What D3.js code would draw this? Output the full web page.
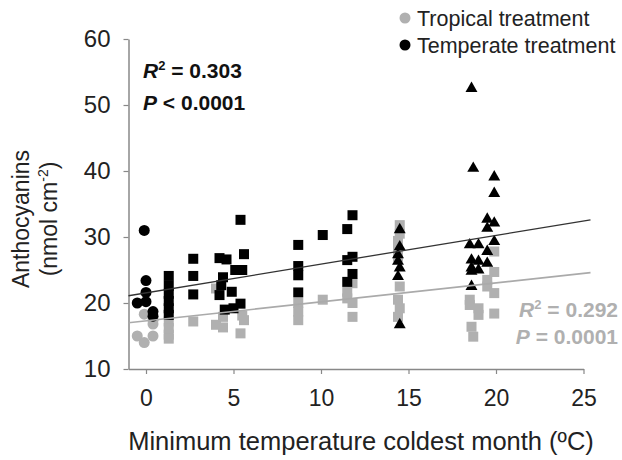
<!DOCTYPE html>
<html>
<head>
<meta charset="utf-8">
<script src="https://cdn.jsdelivr.net/npm/d3@7"></script>
<style>
  body { margin: 0; background: #fff; }
  svg { font-family: "Liberation Sans", Arial, sans-serif; }
</style>
</head>
<body>
<div id="chart"></div>
<script>
// x = minimum temperature coldest month, y = anthocyanins
var xTicks = [0, 5, 10, 15, 20, 25];
var yTicks = [10, 20, 30, 40, 50, 60];

// temperate treatment (black)
var temperateCircles = [[-0.1, 31.0], [0.0, 23.4], [0.0, 21.6], [-0.5, 20.0], [0.0, 20.2], [0.4, 18.7], [0.4, 18.0]];
var temperateSquares = [
  [1.3, 24.1], [1.3, 22.6], [1.3, 21.4], [1.3, 20.3], [1.3, 19.2], [1.3, 18.2],
  [2.7, 26.7], [2.7, 24.1], [2.7, 21.3],
  [4.2, 26.8], [4.6, 26.6], [4.4, 23.9], [4.3, 22.7], [4.2, 21.2], [4.9, 21.7], [4.5, 19.0], [5.0, 19.2],
  [5.1, 25.0], [5.5, 25.0], [5.6, 27.4], [5.4, 32.6], [5.4, 19.9],
  [8.7, 28.8], [8.7, 25.6], [8.7, 24.2], [8.7, 21.6],
  [10.1, 30.3],
  [11.8, 33.3], [11.5, 31.2], [11.5, 26.5], [11.8, 27.0], [11.8, 24.4], [11.5, 23.2]
];
var temperateTriangles = [
  [14.5, 31.1], [14.5, 28.5], [14.4, 27.3], [14.4, 26.3], [14.5, 25.3], [14.4, 24.0], [14.5, 16.7],
  [18.6, 52.5], [18.7, 40.4], [18.5, 28.8], [19.0, 28.8], [18.6, 26.5], [19.0, 26.3], [18.6, 25.3],
  [18.6, 24.8], [18.6, 22.5], [19.0, 25.0], [19.5, 27.8], [19.5, 26.0],
  [19.9, 39.1], [19.9, 36.6], [19.5, 32.7], [19.9, 32.1], [19.5, 31.3], [19.9, 29.3]
];

// tropical treatment (grey)
var tropicalCircles = [[-0.5, 15.0], [-0.1, 14.0], [0.4, 15.0], [-0.1, 18.3], [0.4, 16.8], [0.4, 17.4]];
var tropicalSquares = [
  [1.3, 17.2], [1.3, 16.2], [1.3, 15.2], [1.3, 14.6],
  [2.7, 17.2],
  [4.0, 22.2], [4.0, 16.7], [4.4, 16.3], [4.4, 17.9], [5.4, 15.4], [5.6, 17.4], [5.5, 18.1],
  [8.7, 20.0], [8.7, 18.7], [8.7, 17.4],
  [10.1, 20.5],
  [11.5, 21.7], [11.5, 20.7], [11.8, 23.0], [11.8, 20.0], [11.8, 17.9],
  [14.5, 31.8], [14.5, 30.5], [14.4, 29.4], [14.4, 28.2], [14.4, 27.0], [14.5, 22.5], [14.4, 20.5],
  [14.5, 19.2], [14.4, 17.9],
  [18.5, 20.5], [18.5, 19.7], [19.0, 19.2], [19.0, 18.2], [18.6, 16.4], [18.7, 14.9],
  [19.9, 27.8], [19.9, 24.7], [19.5, 22.5], [19.9, 21.5], [19.9, 18.4], [19.5, 23.5]
];

// regression line end points
var temperateFit = [[-1, 21.1], [25.4, 32.6]];
var tropicalFit = [[-1, 17.0], [25.4, 24.6]];

var width = 622, height = 460;
var grey = "#b0b0b0";

var svg = d3.select("#chart").append("svg")
  .attr("width", width)
  .attr("height", height);

var x = d3.scaleLinear().domain([-1, 25]).range([128.5, 583.5]);
var y = d3.scaleLinear().domain([10, 60]).range([369, 39]);

// axes
var xAxis = svg.append("g")
  .attr("transform", "translate(0," + y(10) + ")")
  .call(d3.axisBottom(x).tickValues(xTicks).tickSize(5).tickSizeOuter(0).tickPadding(16));
var yAxis = svg.append("g")
  .attr("transform", "translate(" + x(-1) + ",0)")
  .call(d3.axisLeft(y).tickValues(yTicks).tickSize(5).tickSizeOuter(0).tickPadding(13));

[xAxis, yAxis].forEach(function(g) {
  g.select(".domain").attr("stroke", "#888").attr("stroke-width", 1.5);
  g.selectAll(".tick line").attr("stroke", "#888").attr("stroke-width", 1.2);
  g.selectAll(".tick text")
    .attr("fill", "#222")
    .style("font-family", "'Liberation Sans', Arial, sans-serif");
});
xAxis.selectAll(".tick text").style("font-size", "23px");
yAxis.selectAll(".tick text").style("font-size", "24px");

// markers
function drawCircles(data, color) {
  svg.append("g").selectAll("circle")
    .data(data).enter().append("circle")
    .attr("cx", function(d) { return x(d[0]); })
    .attr("cy", function(d) { return y(d[1]); })
    .attr("r", 5.5)
    .attr("fill", color);
}
function drawSquares(data, color) {
  var s = 10;
  svg.append("g").selectAll("rect")
    .data(data).enter().append("rect")
    .attr("x", function(d) { return x(d[0]) - s / 2; })
    .attr("y", function(d) { return y(d[1]) - s / 2; })
    .attr("width", s)
    .attr("height", s)
    .attr("fill", color);
}
function drawTriangles(data, color) {
  var tri = d3.symbol().type(d3.symbolTriangle).size(62);
  svg.append("g").selectAll("path")
    .data(data).enter().append("path")
    .attr("d", tri)
    .attr("transform", function(d) { return "translate(" + x(d[0]) + "," + y(d[1]) + ")"; })
    .attr("fill", color);
}

drawCircles(tropicalCircles, grey);
drawSquares(tropicalSquares, grey);
drawCircles(temperateCircles, "#000");
drawSquares(temperateSquares, "#000");
drawTriangles(temperateTriangles, "#000");

// fitted lines
var line = d3.line()
  .x(function(d) { return x(d[0]); })
  .y(function(d) { return y(d[1]); });
svg.append("path").datum(tropicalFit)
  .attr("d", line).attr("fill", "none")
  .attr("stroke", "#aaa").attr("stroke-width", 1.6);
svg.append("path").datum(temperateFit)
  .attr("d", line).attr("fill", "none")
  .attr("stroke", "#333").attr("stroke-width", 1.3);

// stats text
function stat(xp, yp, anchor, color, label, value) {
  var t = svg.append("text")
    .attr("x", xp).attr("y", yp)
    .attr("text-anchor", anchor)
    .attr("fill", color)
    .style("font-size", "21px")
    .style("font-weight", "bold");
  t.append("tspan").style("font-style", "italic").text(label);
  if (label == "R") {
    t.append("tspan").attr("dy", -8).style("font-size", "13px").text("2");
    t.append("tspan").attr("dy", 8).text(" " + value);
  } else {
    t.append("tspan").text(" " + value);
  }
}
stat(143, 78, "start", "#111", "R", "= 0.303");
stat(143, 110, "start", "#111", "P", "< 0.0001");
stat(618, 317, "end", grey, "R", "= 0.292");
stat(618, 344, "end", grey, "P", "= 0.0001");

// legend
var legend = [["Tropical treatment", grey], ["Temperate treatment", "#000"]];
legend.forEach(function(d, i) {
  svg.append("circle")
    .attr("cx", 405).attr("cy", 18 + i * 27)
    .attr("r", 5.5).attr("fill", d[1]);
  svg.append("text")
    .attr("x", 417).attr("y", 26 + i * 27)
    .attr("fill", "#222")
    .style("font-size", "21.5px")
    .text(d[0]);
});

// axis titles
svg.append("text")
  .attr("x", 361).attr("y", 450)
  .attr("text-anchor", "middle")
  .attr("fill", "#222")
  .style("font-size", "25.5px")
  .text("Minimum temperature coldest month (ºC)");

var yTitle = svg.append("text")
  .attr("transform", "translate(29,219) rotate(-90)")
  .attr("text-anchor", "middle")
  .attr("fill", "#222")
  .style("font-size", "23px");
yTitle.append("tspan").attr("x", 0).attr("y", 0).text("Anthocyanins");
yTitle.append("tspan").attr("x", 0).attr("y", 28).text("(nmol cm");
yTitle.append("tspan").attr("dy", -9).style("font-size", "14px").text("-2");
yTitle.append("tspan").attr("dy", 9).text(")");
</script>
</body>
</html>
